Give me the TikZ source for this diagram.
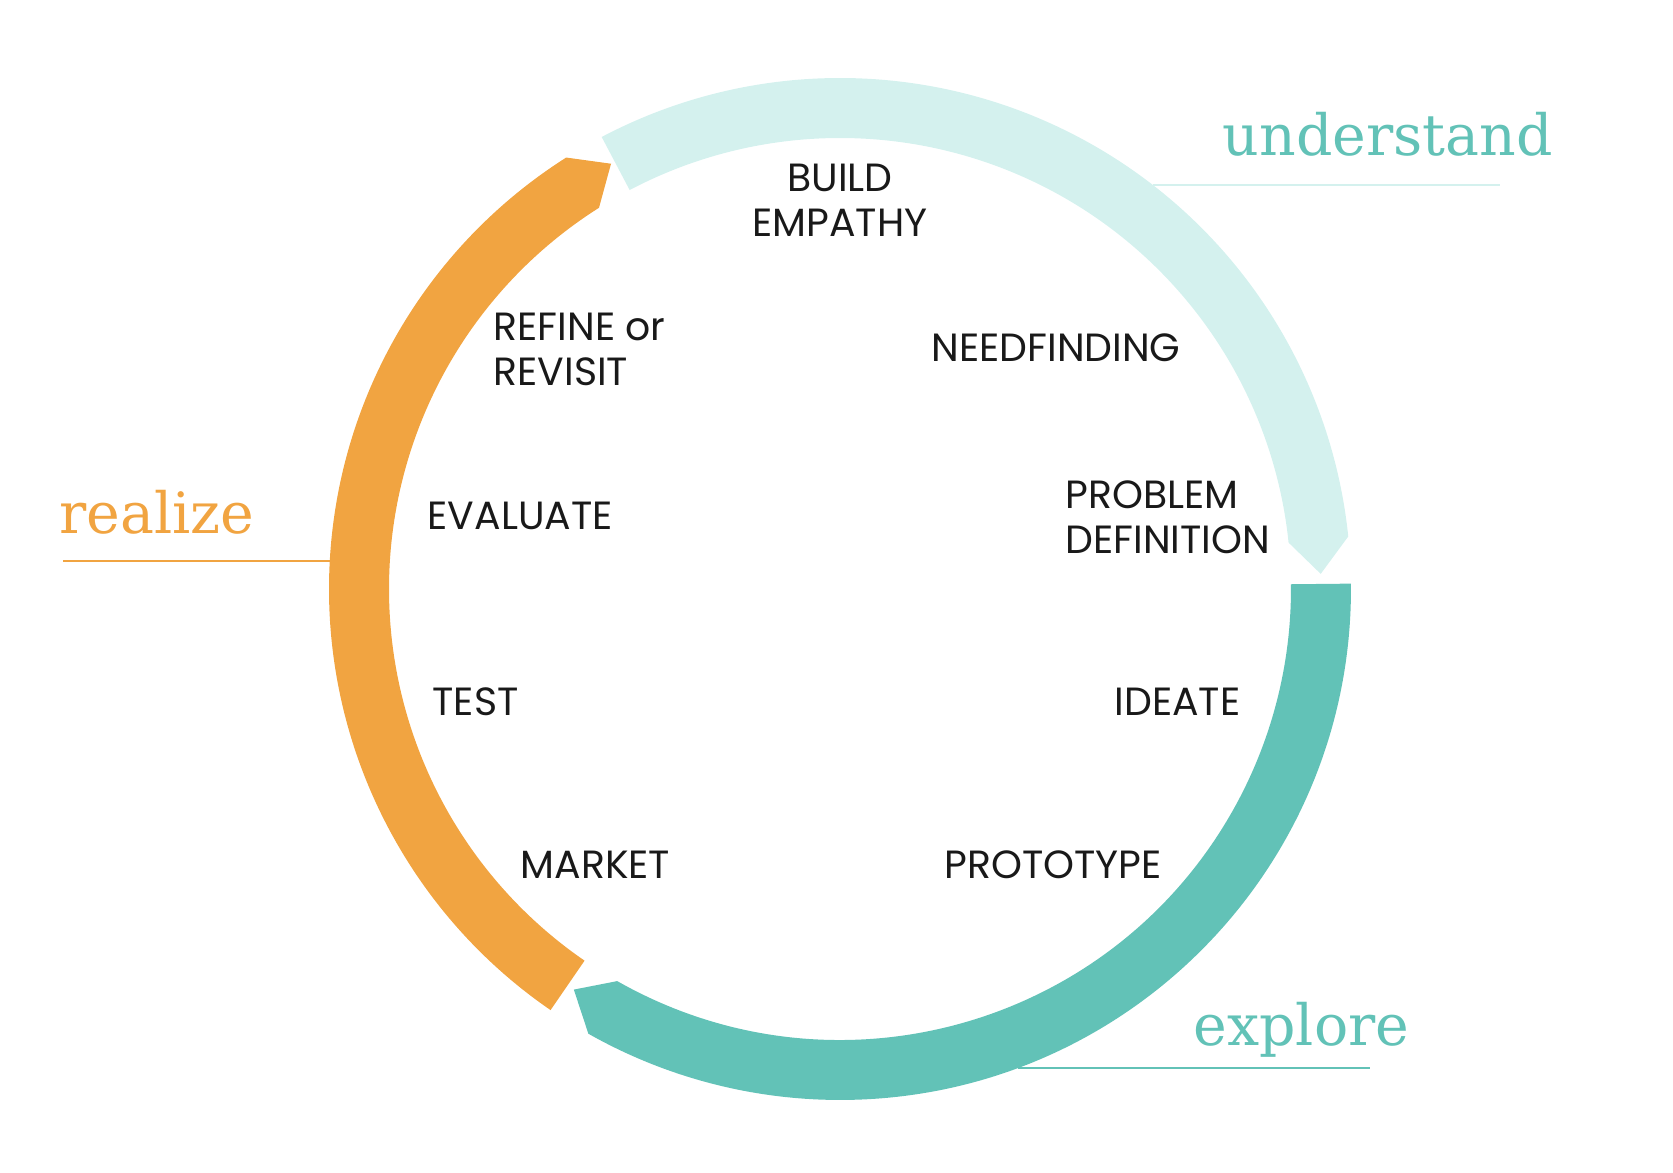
\documentclass[tikz,border=0pt]{standalone}
\usepackage{fontspec}
\setmainfont{Poppins}
\newfontfamily\slabfont{DejaVu Serif}
\definecolor{understandc}{HTML}{D4F1EE}
\definecolor{explorec}{HTML}{62C2B7}
\definecolor{realizec}{HTML}{F1A441}
\begin{document}
\begin{tikzpicture}[
    stagetext/.style={font=\fontsize{11.2}{12.8}\selectfont, inner sep=0pt, text=black!90},
    phasetext/.style={font=\slabfont\fontsize{16.2}{19}\selectfont, inner sep=0pt, anchor=base west},
    phaseline/.style={line width=.6pt},
  ]
  \useasboundingbox (-8.40,-5.84) rectangle (8.33,5.89);
  % rings
  \fill[understandc] (117.8:5.11) arc[start angle=117.8, end angle=5.9, radius=5.11]
    -- (1.8:4.81) -- (5.9:4.51) arc[start angle=5.9, end angle=117.8, radius=4.51] -- cycle;
  \fill[explorec] (0.6:5.11) arc[start angle=0.6, end angle=-119.5, radius=5.11]
    -- (-123.6:4.81) -- (-119.6:4.51) arc[start angle=-119.6, end angle=0.6, radius=4.51] -- cycle;
  \fill[realizec] (235.5:5.11) arc[start angle=235.5, end angle=122.4, radius=5.11]
    -- (118.3:4.83) -- (122.3:4.51) arc[start angle=122.3, end angle=235.5, radius=4.51] -- cycle;
  % phase labels
  \node[phasetext, text=explorec] (understand) at (3.82,4.33) {understand};
  \node[phasetext, text=realizec] (realize) at (-7.81,0.55) {realize};
  \node[phasetext, text=explorec] (explore) at (3.53,-4.57) {explore};
  % lines
  \coordinate (understandring) at (3.13,4.04);
  \coordinate (understandend) at (6.60,4.04);
  \coordinate (realizering) at (-5.10,0.28);
  \coordinate (realizeend) at (-7.77,0.28);
  \coordinate (explorering) at (1.78,-4.79);
  \coordinate (exploreend) at (5.30,-4.79);
  \draw[phaseline, understandc] (understandring) -- (understandend);
  \draw[phaseline, realizec] (realizering) -- (realizeend);
  \draw[phaseline, explorec] (explorering) -- (exploreend);
  % steps
  \node[stagetext, align=center, anchor=base] (empathy) at (0,3.52) {BUILD\\EMPATHY};
  \node[stagetext, anchor=base west] (needfinding) at (0.91,2.27) {NEEDFINDING};
  \node[stagetext, align=left, anchor=base west] (problem) at (2.25,0.355) {PROBLEM\\DEFINITION};
  \node[stagetext, anchor=base west] (ideate) at (2.74,-1.265) {IDEATE};
  \node[stagetext, anchor=base west] (prototype) at (1.04,-2.895) {PROTOTYPE};
  \node[stagetext, anchor=base west] (market) at (-3.20,-2.895) {MARKET};
  \node[stagetext, anchor=base west] (test) at (-4.08,-1.265) {TEST};
  \node[stagetext, anchor=base west] (evaluate) at (-4.13,0.595) {EVALUATE};
  \node[stagetext, align=left, anchor=base west] (refine) at (-3.47,2.035) {REFINE or\\REVISIT};
\end{tikzpicture}
\end{document}
